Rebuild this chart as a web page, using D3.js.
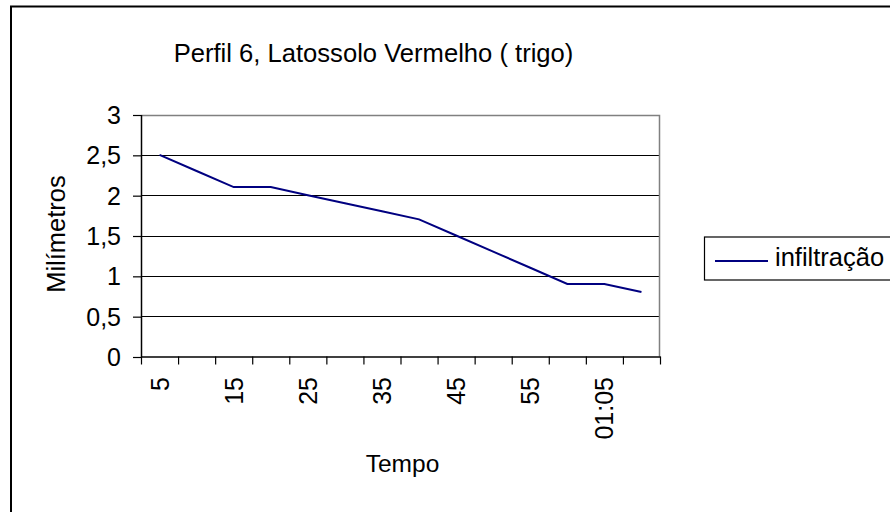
<!DOCTYPE html>
<html>
<head>
<meta charset="utf-8">
<script src="https://cdn.jsdelivr.net/npm/d3@7"></script>
<style>
  html, body { margin: 0; padding: 0; background: #fff; }
  svg { display: block; }
  text { font-family: "Liberation Sans", Arial, sans-serif; fill: #000; }
</style>
</head>
<body>
<svg id="chart" width="890" height="512"></svg>
<script>
// Tempo (minutos) e infiltração medida (mm)
const categories = ["5", "10", "15", "20", "25", "30", "35", "40", "45", "50", "55", "60", "01:05", "01:10"];
const infiltracao = [2.5, 2.3, 2.1, 2.1, 2.0, 1.9, 1.8, 1.7, 1.5, 1.3, 1.1, 0.9, 0.9, 0.8];
const yTicks = [0, 0.5, 1, 1.5, 2, 2.5, 3];
const yTickLabels = ["0", "0,5", "1", "1,5", "2", "2,5", "3"];
const seriesName = "infiltração";
const title = "Perfil 6, Latossolo Vermelho ( trigo)";
const xTitle = "Tempo";
const yTitle = "Milímetros";

const svg = d3.select("#chart");
const plot = { left: 141, right: 660, top: 114.5, bottom: 356.5 };

// outer frame of the chart object
svg.append("rect")
  .attr("x", 11).attr("y", 6.5)
  .attr("width", 1000).attr("height", 1000)
  .attr("fill", "#fff").attr("stroke", "#000").attr("stroke-width", 2);

// category band scale and an index scale for the tick marks at band edges
const x = d3.scaleBand().domain(categories).range([plot.left, plot.right]).padding(0);
const xEdge = d3.scaleLinear().domain([0, categories.length]).range([plot.left, plot.right]);
const y = d3.scaleLinear().domain([0, 3]).range([plot.bottom, plot.top]);

// horizontal gridlines
svg.append("g")
  .selectAll("line")
  .data(yTicks.filter(v => v > 0 && v < 3))
  .join("line")
  .attr("x1", plot.left).attr("x2", plot.right)
  .attr("y1", d => Math.round(y(d)) + 0.5).attr("y2", d => Math.round(y(d)) + 0.5)
  .attr("stroke", "#000").attr("stroke-width", 1);

// top and right borders of the plot area
svg.append("path")
  .attr("d", `M${plot.left},${Math.round(y(3)) + 0.5}H${plot.right - 0.5}V${plot.bottom}`)
  .attr("fill", "none").attr("stroke", "#808080").attr("stroke-width", 1.5);

// y axis
const yAxis = svg.append("g")
  .attr("transform", `translate(${plot.left},0)`)
  .call(d3.axisLeft(y).tickValues(yTicks).tickSize(8).tickSizeOuter(0)
    .tickFormat((d, i) => yTickLabels[i]));
yAxis.select(".domain").attr("stroke", "#000").attr("stroke-width", 1.5);
yAxis.selectAll(".tick line").attr("stroke", "#000").attr("stroke-width", 1.2)
  .attr("transform", "translate(0,0.5)");
yAxis.selectAll(".tick text")
  .attr("x", -20).attr("dy", "0.36em")
  .style("font-size", "25px").style("font-family", "'Liberation Sans', Arial, sans-serif")
  .attr("fill", "#000");

// x axis with tick marks on category boundaries
const xAxis = svg.append("g")
  .attr("transform", `translate(0,${plot.bottom})`)
  .call(d3.axisBottom(xEdge).tickValues(d3.range(categories.length + 1)).tickSize(8)
    .tickSizeOuter(0).tickFormat(""));
xAxis.select(".domain").attr("stroke", "#000").attr("stroke-width", 1.5);
xAxis.selectAll(".tick line").attr("stroke", "#000").attr("stroke-width", 1.2);

// rotated category labels, every other category
svg.append("g")
  .selectAll("text")
  .data(categories.filter((c, i) => i % 2 === 0))
  .join("text")
  .attr("transform", d => `translate(${x(d) + x.bandwidth() / 2 + 9},377) rotate(-90)`)
  .attr("text-anchor", "end")
  .style("font-size", "25px")
  .text(d => d);

// data line
const line = d3.line()
  .x((d, i) => x(categories[i]) + x.bandwidth() / 2)
  .y(d => y(d));
svg.append("path")
  .datum(infiltracao)
  .attr("d", line)
  .attr("fill", "none").attr("stroke", "#000080").attr("stroke-width", 2)
  .attr("stroke-linejoin", "miter");

// titles
svg.append("text")
  .attr("x", 373.5).attr("y", 62)
  .attr("text-anchor", "middle")
  .style("font-size", "25.6px")
  .text(title);

svg.append("text")
  .attr("x", 402.5).attr("y", 472)
  .attr("text-anchor", "middle")
  .style("font-size", "24.5px")
  .text(xTitle);

svg.append("text")
  .attr("transform", "translate(65,234) rotate(-90)")
  .attr("text-anchor", "middle")
  .style("font-size", "25.5px")
  .text(yTitle);

// legend
const legend = svg.append("g");
legend.append("rect")
  .attr("x", 704.5).attr("y", 237)
  .attr("width", 300).attr("height", 43)
  .attr("fill", "#fff").attr("stroke", "#000").attr("stroke-width", 1.2);
legend.append("line")
  .attr("x1", 715).attr("x2", 768).attr("y1", 261).attr("y2", 261)
  .attr("stroke", "#000080").attr("stroke-width", 2);
legend.append("text")
  .attr("x", 775).attr("y", 266)
  .style("font-size", "25.5px")
  .text(seriesName);
</script>
</body>
</html>
